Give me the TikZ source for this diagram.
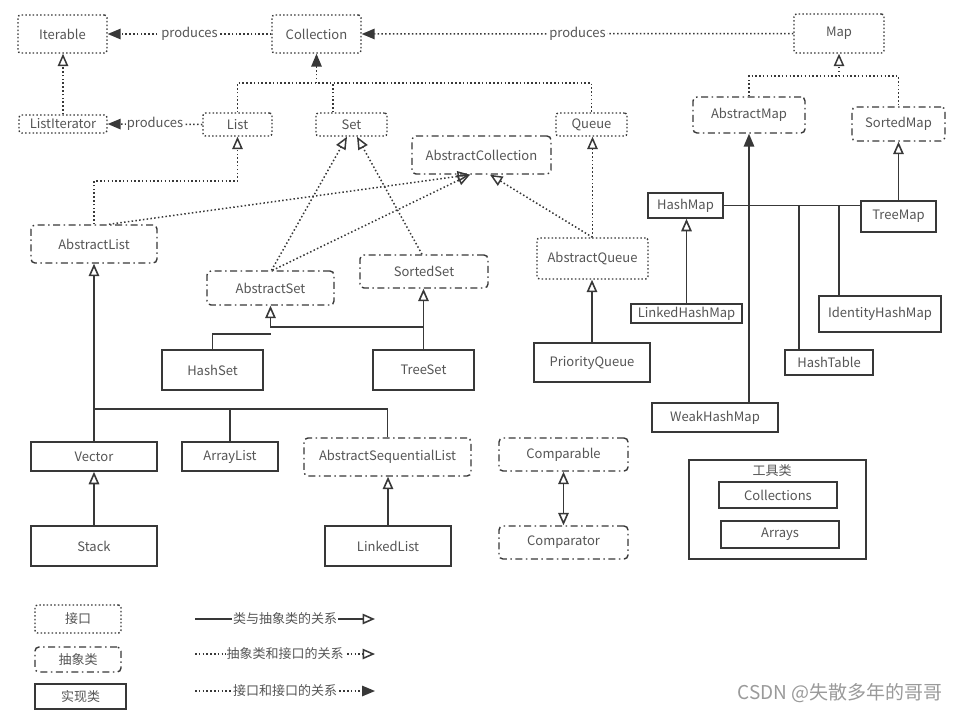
\documentclass[tikz,border=0pt]{standalone}
\usepackage{fontspec}
\setmainfont{Noto Sans CJK SC}
\usetikzlibrary{arrows.meta,calc}
\definecolor{ln}{HTML}{383838}
\definecolor{tx}{HTML}{555555}
\definecolor{wm}{HTML}{9A9A9A}
\newcommand\myfs{\fontsize{13}{15}\selectfont}
\tikzset{
  base/.style={draw=ln, line width=1.4pt, text=tx, inner sep=0pt, font=\myfs},
  iface/.style={base, dash pattern=on 1.5pt off 2.2pt, rounded corners=2.5pt},
  abst/.style={base, dash pattern=on 7pt off 3.5pt on 1.5pt off 3.5pt, rounded corners=4pt},
  impl/.style={base, line width=1.6pt},
  dl/.style={draw=ln, line width=1.5pt, dash pattern=on 1.5pt off 2.3pt},
  sl/.style={draw=ln, line width=1.6pt},
  lbl/.style={fill=white, text=tx, inner sep=1pt, font=\myfs},
  opentri/.tip={Triangle[open, length=12.5pt, width=10.5pt]},
  filltri/.tip={Triangle[length=13pt, width=10.5pt]},
}
\begin{document}
\begin{tikzpicture}[x=1pt,y=-1pt]
\useasboundingbox[fill=white] (0,0) rectangle (961,713);
% interfaces
\node[iface, minimum width=89, minimum height=38] (Iterable) at (62.5,34) {Iterable};
\node[iface, minimum width=89, minimum height=38] (Collection) at (316.5,34) {Collection};
\node[iface, minimum width=90, minimum height=39] (Map) at (839,33.5) {Map};
\node[iface, minimum width=88, minimum height=18] (ListIterator) at (63,124) {ListIterator};
\node[iface, minimum width=69, minimum height=23] (List) at (237.5,124.5) {List};
\node[iface, minimum width=71, minimum height=23] (Set) at (351.5,124.5) {Set};
\node[iface, minimum width=71, minimum height=23] (Queue) at (591.5,124.5) {Queue};
% abstract
\node[abst, minimum width=139, minimum height=38] (AbstractCollection) at (481.5,155) {AbstractCollection};
\node[abst, minimum width=112, minimum height=36] (AbstractMap) at (749,115) {AbstractMap};
\node[abst, minimum width=93, minimum height=34] (SortedMap) at (898.5,124) {SortedMap};
\node[abst, minimum width=126, minimum height=38] (AbstractList) at (94,244) {AbstractList};
\node[abst, minimum width=127, minimum height=34] (AbstractSet) at (270.5,288) {AbstractSet};
\node[abst, minimum width=128, minimum height=33] (SortedSet) at (424,271.5) {SortedSet};
\node[iface, minimum width=111, minimum height=41] (AbstractQueue) at (592.5,258.5) {AbstractQueue};
\node[abst, minimum width=167, minimum height=38] (AbstractSequentialList) at (387.5,457) {AbstractSequentialList};
\node[abst, minimum width=129, minimum height=33] (Comparable) at (563.5,454.5) {Comparable};
\node[abst, minimum width=129, minimum height=33] (Comparator) at (563.5,542.5) {Comparator};
% implementations
\node[impl, minimum width=75, minimum height=25] (HashMap) at (685.5,205.5) {HashMap};
\node[impl, minimum width=75, minimum height=31] (TreeMap) at (898.5,216.5) {TreeMap};
\node[impl, minimum width=111, minimum height=19] (LinkedHashMap) at (686.5,313.5) {LinkedHashMap};
\node[impl, minimum width=122, minimum height=36] (IdentityHashMap) at (880,314) {IdentityHashMap};
\node[impl, minimum width=88, minimum height=25] (HashTable) at (829,362.5) {HashTable};
\node[impl, minimum width=126, minimum height=29] (WeakHashMap) at (715,417.5) {WeakHashMap};
\node[impl, minimum width=101, minimum height=40] (HashSet) at (212.5,370) {HashSet};
\node[impl, minimum width=101, minimum height=40] (TreeSet) at (423.5,370) {TreeSet};
\node[impl, minimum width=116, minimum height=39] (PriorityQueue) at (592,362.5) {PriorityQueue};
\node[impl, minimum width=126, minimum height=29] (Vector) at (94,456.5) {Vector};
\node[impl, minimum width=96, minimum height=29] (ArrayList) at (230,456.5) {ArrayList};
\node[impl, minimum width=126, minimum height=40] (Stack) at (94,546) {Stack};
\node[impl, minimum width=126, minimum height=40] (LinkedList) at (388,546) {LinkedList};
% tools
\node[impl, minimum width=177, minimum height=99] (Tools) at (777.5,509.5) {};
\node[text=tx, font=\myfs, inner sep=0pt] (ToolsT) at (772,471) {工具类};
\node[impl, minimum width=118, minimum height=26] (Collections) at (778,495) {Collections};
\node[impl, minimum width=118, minimum height=27] (Arrays) at (780,534.5) {Arrays};
% legend
\node[iface, minimum width=86, minimum height=28] (LgI) at (78,619) {接口};
\node[abst, minimum width=86, minimum height=25] (LgA) at (78,659.5) {抽象类};
\node[impl, minimum width=91, minimum height=25] (LgC) at (80.5,696.5) {实现类};
\coordinate (l1s) at (195,619); \coordinate (l1e) at (375,619);
\coordinate (l2s) at (195,654); \coordinate (l2e) at (375,654);
\coordinate (l3s) at (195,691); \coordinate (l3e) at (375,691);
\draw[sl,-opentri] (l1s) -- node[lbl]{类与抽象类的关系} (l1e);
\draw[dl,-opentri] (l2s) -- node[lbl]{抽象类和接口的关系} (l2e);
\draw[dl,-filltri] (l3s) -- node[lbl]{接口和接口的关系} (l3e);
\node[text=wm, font=\fontsize{19}{21}\selectfont, inner sep=0pt] (wmark) at (840,693) {CSDN @失散多年的哥哥};
% produces
\draw[dl,-filltri] (Collection.west) -- node[lbl]{produces} (Iterable.east);
\draw[dl,-filltri] (Map.west) -- node[lbl]{produces} (Collection.east);
\draw[dl,-filltri] (List.west) -- node[lbl]{produces} (ListIterator.east);
\draw[dl,-opentri] (ListIterator.north) -- (ListIterator.north |- Iterable.south);
% collection branch
\coordinate (jC) at (316.5,83);
\draw[dl,-filltri] (jC) -- (Collection.south);
\draw[dl] (List.north) |- (Queue.north |- jC) -- (Queue.north);
\draw[dl] ([xshift=-18.5pt]Set.north) -- ([xshift=-18.5pt]Set.north |- jC);
% map branch
\coordinate (jM) at (839,76);
\draw[dl,-opentri] (jM) -- (Map.south);
\draw[dl] (AbstractMap.north) |- (SortedMap.north |- jM) -- (SortedMap.north);
% list
\draw[dl,-opentri] (AbstractList.north) |- (List.south |- 0,181) -- (List.south);
\draw[dl,-opentri] ([xshift=15pt]AbstractList.north) -- ([xshift=-11.5pt]AbstractCollection.south);
\draw[dl,-opentri] ([xshift=2pt]AbstractSet.north) -- ([xshift=-11.5pt]AbstractCollection.south);
\draw[dl,-opentri] (AbstractQueue.north) -- ([xshift=8.5pt]AbstractCollection.south);
\draw[dl,-opentri] ([xshift=1pt]AbstractSet.north) -- ([xshift=-4.5pt]Set.south);
\draw[dl,-opentri] ([xshift=-2pt]SortedSet.north) -- ([xshift=5.5pt]Set.south);
\draw[dl,-opentri] (AbstractQueue.north) -- (AbstractQueue.north |- Queue.south);
\draw[sl,-opentri] (PriorityQueue.north) -- (PriorityQueue.north |- AbstractQueue.south);
% sets
\draw[sl,-opentri] (TreeSet.north) -- (TreeSet.north |- SortedSet.south);
\draw[sl,-opentri] (TreeSet.north |- 0,327) -| (AbstractSet.south);
\draw[sl] (HashSet.north) |- (AbstractSet.south |- 0,334);
% lists
\coordinate (jL) at (94,409);
\draw[sl,-opentri] (Vector.north) -- (AbstractList.south);
\draw[sl] (jL) -| (ArrayList.north);
\draw[sl] (jL) -| (AbstractSequentialList.north);
\draw[sl,-opentri] (Stack.north) -- (Vector.south);
\draw[sl,-opentri] (LinkedList.north) -- (LinkedList.north |- AbstractSequentialList.south);
% comparable
\draw[sl,opentri-opentri] (Comparator.north) -- (Comparable.south);
% maps
\draw[sl,-filltri] (AbstractMap.south |- WeakHashMap.north) -- (AbstractMap.south);
\draw[sl] (HashMap.east) -- (HashMap.east -| TreeMap.west);
\draw[sl] ([xshift=-30pt]HashTable.north) -- ([xshift=-30pt]HashTable.north |- HashMap.east);
\draw[sl] ([xshift=-41pt]IdentityHashMap.north) -- ([xshift=-41pt]IdentityHashMap.north |- HashMap.east);
\draw[sl,-opentri] (LinkedHashMap.north) -- (LinkedHashMap.north |- HashMap.south);
\draw[sl,-opentri] (TreeMap.north) -- (TreeMap.north |- SortedMap.south);
\end{tikzpicture}
\end{document}
